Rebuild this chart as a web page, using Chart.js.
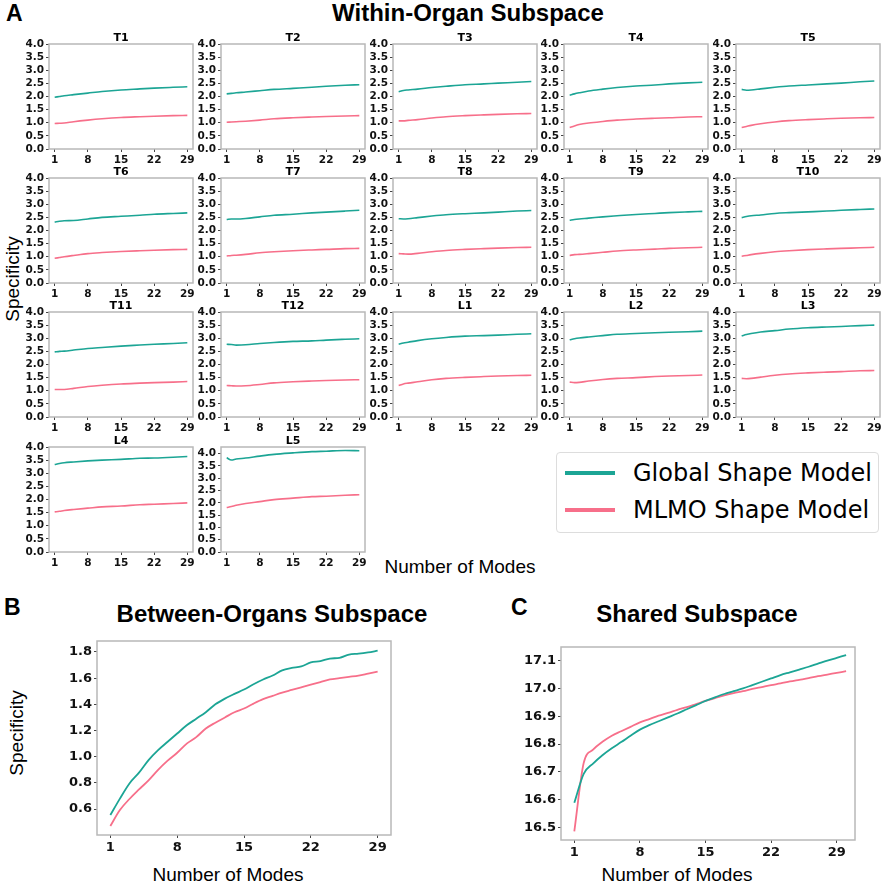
<!DOCTYPE html>
<html>
<head>
<meta charset="utf-8">
<script src="https://cdn.jsdelivr.net/npm/chart.js@4.4.0/dist/chart.umd.min.js"></script>
<style>
  body { margin: 0; background: #fff; width: 886px; height: 885px; position: relative; overflow: hidden; font-family: "Liberation Sans", Arial, sans-serif; }
  canvas { position: absolute; }
  .lbl { position: absolute; white-space: nowrap; color: #000; transform: translate(-50%, -50%); }
  .big { font-weight: bold; font-size: 24px; }
  .panel { position: absolute; font-weight: bold; font-size: 23px; }
  .axt { font-size: 19px; }
  .rot { transform: translate(-50%, -50%) rotate(-90deg); }
  #legend { position: absolute; left: 556px; top: 452px; width: 321px; height: 79px; border: 1px solid #ddd; border-radius: 4px; font-family: "DejaVu Sans", sans-serif; font-size: 24px; }
  #legend .row { position: absolute; left: 0; height: 30px; }
  #legend .swatch { position: absolute; left: 8px; top: 13px; width: 50px; height: 4px; }
  #legend .txt { position: absolute; left: 76px; top: 0; line-height: 30px; white-space: nowrap; }
</style>
</head>
<body>

<div class="panel" style="left:6px; top:0px;">A</div>
<div class="lbl big" style="left:468px; top:13px;">Within-Organ Subspace</div>
<div class="lbl axt rot" style="left:13px; top:279px;">Specificity</div>
<div class="lbl axt" style="left:460px; top:567px;">Number of Modes</div>

<div class="panel" style="left:4px; top:594px;">B</div>
<div class="lbl big" style="left:272px; top:614px;">Between-Organs Subspace</div>
<div class="lbl axt rot" style="left:17px; top:733px;">Specificity</div>
<div class="lbl axt" style="left:228px; top:875px;">Number of Modes</div>

<div class="panel" style="left:511px; top:594px;">C</div>
<div class="lbl big" style="left:697px; top:614px;">Shared Subspace</div>
<div class="lbl axt" style="left:677px; top:875px;">Number of Modes</div>

<div id="legend">
  <div class="row" style="top:5px;"><div class="swatch" style="background:#1ca595"></div><div class="txt">Global Shape Model</div></div>
  <div class="row" style="top:42px;"><div class="swatch" style="background:#f76f8a"></div><div class="txt">MLMO Shape Model</div></div>
</div>

<script>
// DADOS
const organs = ['T1','T2','T3','T4','T5','T6','T7','T8','T9','T10','T11','T12','L1','L2','L3','L4','L5']
const smallModes = [1, 2, 3, 5, 8, 11, 15, 19, 22, 26, 29]

// global shape model, one row per organ
const globalSpec = [
  [1.97, 2.00, 2.03, 2.07, 2.13, 2.19, 2.25, 2.29, 2.32, 2.35, 2.37],
  [2.10, 2.12, 2.14, 2.17, 2.22, 2.27, 2.31, 2.35, 2.39, 2.43, 2.45],
  [2.18, 2.23, 2.25, 2.28, 2.34, 2.39, 2.45, 2.48, 2.51, 2.54, 2.57],
  [2.05, 2.10, 2.14, 2.21, 2.28, 2.34, 2.40, 2.44, 2.48, 2.52, 2.54],
  [2.27, 2.24, 2.25, 2.29, 2.35, 2.40, 2.44, 2.48, 2.51, 2.56, 2.59],
  [2.32, 2.35, 2.37, 2.38, 2.44, 2.50, 2.54, 2.58, 2.62, 2.65, 2.67],
  [2.42, 2.44, 2.44, 2.46, 2.52, 2.58, 2.62, 2.67, 2.70, 2.74, 2.77],
  [2.45, 2.44, 2.45, 2.49, 2.55, 2.60, 2.64, 2.67, 2.70, 2.74, 2.76],
  [2.39, 2.42, 2.44, 2.47, 2.52, 2.56, 2.61, 2.65, 2.68, 2.71, 2.73],
  [2.49, 2.53, 2.56, 2.59, 2.65, 2.68, 2.71, 2.74, 2.77, 2.80, 2.82],
  [2.48, 2.50, 2.51, 2.55, 2.61, 2.65, 2.70, 2.74, 2.77, 2.80, 2.83],
  [2.77, 2.76, 2.74, 2.75, 2.80, 2.84, 2.88, 2.90, 2.93, 2.96, 2.98],
  [2.77, 2.82, 2.85, 2.91, 2.98, 3.03, 3.08, 3.10, 3.12, 3.15, 3.17],
  [2.94, 2.98, 3.01, 3.05, 3.10, 3.15, 3.18, 3.21, 3.23, 3.25, 3.27],
  [3.09, 3.14, 3.18, 3.24, 3.29, 3.35, 3.40, 3.43, 3.45, 3.48, 3.50],
  [3.33, 3.37, 3.40, 3.43, 3.47, 3.50, 3.53, 3.57, 3.58, 3.61, 3.64],
  [3.83, 3.74, 3.78, 3.82, 3.90, 3.97, 4.03, 4.08, 4.10, 4.13, 4.12]
]

// MLMO shape model, one row per organ
const mlmoSpec = [
  [0.97, 0.98, 0.99, 1.04, 1.10, 1.15, 1.20, 1.23, 1.25, 1.27, 1.28],
  [1.02, 1.03, 1.04, 1.06, 1.10, 1.15, 1.19, 1.22, 1.24, 1.26, 1.27],
  [1.07, 1.07, 1.09, 1.12, 1.18, 1.23, 1.27, 1.30, 1.32, 1.34, 1.35],
  [0.82, 0.88, 0.93, 0.99, 1.05, 1.10, 1.14, 1.17, 1.19, 1.22, 1.23],
  [0.82, 0.86, 0.90, 0.96, 1.03, 1.08, 1.12, 1.15, 1.17, 1.19, 1.20],
  [0.94, 0.97, 1.00, 1.05, 1.12, 1.16, 1.20, 1.23, 1.25, 1.27, 1.28],
  [1.03, 1.05, 1.06, 1.09, 1.15, 1.19, 1.23, 1.26, 1.28, 1.31, 1.32],
  [1.12, 1.11, 1.10, 1.13, 1.19, 1.24, 1.28, 1.31, 1.33, 1.35, 1.36],
  [1.05, 1.08, 1.09, 1.12, 1.17, 1.22, 1.26, 1.29, 1.32, 1.34, 1.36],
  [1.02, 1.05, 1.08, 1.13, 1.19, 1.23, 1.27, 1.30, 1.32, 1.34, 1.36],
  [1.05, 1.05, 1.05, 1.09, 1.16, 1.21, 1.26, 1.29, 1.31, 1.33, 1.35],
  [1.20, 1.19, 1.18, 1.19, 1.24, 1.30, 1.34, 1.37, 1.39, 1.41, 1.42],
  [1.20, 1.26, 1.29, 1.34, 1.42, 1.47, 1.51, 1.54, 1.56, 1.58, 1.59],
  [1.33, 1.31, 1.32, 1.37, 1.43, 1.47, 1.50, 1.54, 1.56, 1.58, 1.60],
  [1.47, 1.46, 1.47, 1.52, 1.59, 1.64, 1.68, 1.71, 1.73, 1.76, 1.77],
  [1.53, 1.55, 1.58, 1.62, 1.67, 1.72, 1.75, 1.80, 1.82, 1.85, 1.87],
  [1.81, 1.85, 1.90, 1.97, 2.05, 2.13, 2.19, 2.25, 2.27, 2.31, 2.33]
]

const xTicks = [1, 8, 15, 22, 29]
const smallYTicks = [0, 0.5, 1, 1.5, 2, 2.5, 3, 3.5, 4]

// between-organs subspace
const modesB = [1,2,3,4,5,6,7,8,9,10,11,12,13,14,15,16,17,18,19,20,21,22,23,24,25,26,27,28,29]
const betweenGlobal = [0.555,0.68,0.796,0.878,0.974,1.05,1.114,1.177,1.24,1.29,1.34,1.40,1.444,1.48,1.513,1.554,1.59,1.62,1.66,1.678,1.69,1.72,1.73,1.75,1.755,1.78,1.787,1.797,1.81]
const betweenMlmo = [0.471,0.593,0.677,0.75,0.82,0.90,0.97,1.03,1.10,1.15,1.215,1.26,1.30,1.34,1.368,1.406,1.44,1.465,1.49,1.51,1.53,1.55,1.57,1.59,1.60,1.61,1.62,1.635,1.65]
const betweenYTicks = [0.6, 0.8, 1.0, 1.2, 1.4, 1.6, 1.8]

// shared subspace
const modesC = [1,2,3,4,5,6,7,8,9,10,11,12,13,14,15,16,17,18,19,20,21,22,23,24,25,26,27,28,29,30]
const sharedGlobal = [16.589,16.693,16.73,16.76,16.785,16.807,16.83,16.852,16.868,16.882,16.896,16.91,16.925,16.94,16.955,16.968,16.98,16.99,17.0,17.012,17.024,17.036,17.048,17.058,17.068,17.078,17.089,17.1,17.11,17.12]
const sharedMlmo = [16.486,16.732,16.78,16.808,16.83,16.846,16.862,16.878,16.89,16.902,16.912,16.923,16.933,16.944,16.955,16.965,16.975,16.983,16.99,16.998,17.005,17.012,17.018,17.025,17.031,17.037,17.044,17.05,17.056,17.062]
const sharedYTicks = [16.5, 16.6, 16.7, 16.8, 16.9, 17.0, 17.1]

const TEAL = '#1ca595'
const PINK = '#f76f8a'

// moldura cinza em volta da area do grafico + titulo centrado na area
const framePlugin = {
  id: 'frame',
  afterDraw(chart, args, opts) {
    const a = chart.chartArea
    const ctx = chart.ctx
    ctx.save()
    ctx.strokeStyle = '#b8b8b8'
    ctx.lineWidth = 1.5
    ctx.strokeRect(a.left, a.top, a.right - a.left, a.bottom - a.top)
    if (opts.text) {
      ctx.fillStyle = '#000'
      ctx.font = 'bold 11px "DejaVu Sans"'
      ctx.textAlign = 'center'
      ctx.textBaseline = 'middle'
      ctx.fillText(opts.text, (a.left + a.right) / 2, a.top - 6)
    }
    ctx.restore()
  }
}

function addCanvas(left, top, w, h) {
  const c = document.createElement('canvas')
  c.width = w
  c.height = h
  c.style.left = left + 'px'
  c.style.top = top + 'px'
  c.style.width = w + 'px'
  c.style.height = h + 'px'
  document.body.appendChild(c)
  return c
}

function pts(xs, ys) {
  return xs.map((x, k) => ({ x: x, y: ys[k] }))
}

function lineChart(canvas, cfg) {
  const tickFont = { family: 'DejaVu Sans', weight: 'bold', size: cfg.fontSize }
  return new Chart(canvas.getContext('2d'), {
    type: 'line',
    data: {
      datasets: [
        { data: pts(cfg.xs, cfg.g), borderColor: TEAL, borderWidth: cfg.lw, pointRadius: 0, cubicInterpolationMode: 'monotone' },
        { data: pts(cfg.xs, cfg.m), borderColor: PINK, borderWidth: cfg.lw, pointRadius: 0, cubicInterpolationMode: 'monotone' }
      ]
    },
    options: {
      responsive: false,
      animation: false,
      layout: { padding: cfg.padding },
      plugins: {
        legend: { display: false },
        tooltip: { enabled: false },
        title: { display: false },
        frame: { text: cfg.title || '' }
      },
      scales: {
        x: {
          type: 'linear', min: cfg.xMin, max: cfg.xMax,
          afterBuildTicks: ax => { ax.ticks = xTicks.map(v => ({ value: v })) },
          afterFit: ax => { ax.height = cfg.xH },
          ticks: { font: tickFont, color: '#111', padding: 2, maxRotation: 0, autoSkip: false },
          grid: { drawOnChartArea: false, tickLength: 3, color: '#444' },
          border: { display: false }
        },
        y: {
          min: cfg.yMin, max: cfg.yMax,
          afterBuildTicks: ax => { ax.ticks = cfg.yTicks.map(v => ({ value: v })) },
          afterFit: ax => { ax.width = cfg.yW },
          ticks: { font: tickFont, color: '#111', padding: 2, autoSkip: false, callback: v => v.toFixed(1) },
          grid: { drawOnChartArea: false, tickLength: 3, color: '#444' },
          border: { display: false }
        }
      }
    },
    plugins: [framePlugin]
  })
}

// GRAFICOS PEQUENOS (A)
organs.forEach((name, i) => {
  const col = i % 5
  const row = Math.floor(i / 5)
  const plotLeft = 49 + 171.8 * col
  const plotTop = 44 + 134.2 * row
  const cv = addCanvas(Math.round(plotLeft - 34), Math.round(plotTop - 18), 186, 141)
  lineChart(cv, {
    xs: smallModes, g: globalSpec[i], m: mlmoSpec[i],
    title: name, fontSize: 10.5, lw: 1.6,
    xMin: -0.2, xMax: 30.2, yMin: 0, yMax: name === 'L5' ? 4.27 : 4.0,
    yTicks: smallYTicks, xH: 18, yW: 34,
    padding: { top: 18, right: 8, bottom: 0, left: 0 }
  })
})

// GRAFICO B
lineChart(addCanvas(52, 631, 351, 232), {
  xs: modesB, g: betweenGlobal, m: betweenMlmo,
  fontSize: 13, lw: 1.8,
  xMin: -0.4, xMax: 30.4, yMin: 0.402, yMax: 1.884,
  yTicks: betweenYTicks, xH: 28, yW: 45,
  padding: { top: 10, right: 12, bottom: 0, left: 0 }
})

// GRAFICO C
lineChart(addCanvas(506, 637, 361, 231), {
  xs: modesC, g: sharedGlobal, m: sharedMlmo,
  fontSize: 13, lw: 1.8,
  xMin: -0.42, xMax: 30.95, yMin: 16.455, yMax: 17.149,
  yTicks: sharedYTicks, xH: 28, yW: 55,
  padding: { top: 10, right: 12, bottom: 0, left: 0 }
})
</script>
</body>
</html>
